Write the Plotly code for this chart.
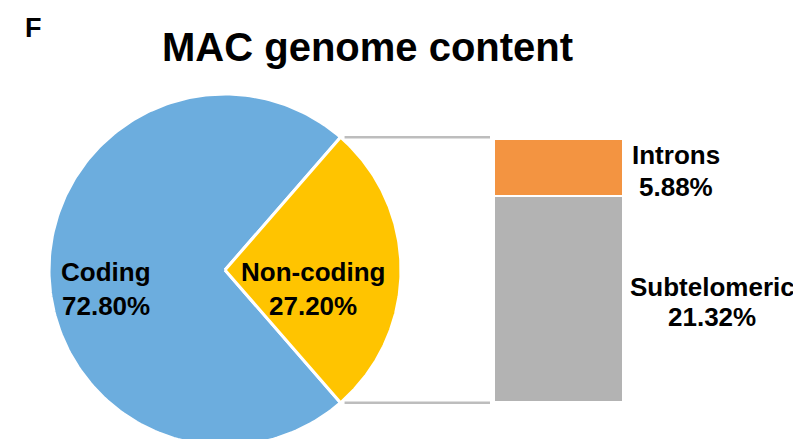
import numpy as np
import plotly.graph_objects as go

# data
pie_labels = ["Coding", "Non-coding"]
pie_values = [72.80, 27.20]
bar_labels = ["Subtelomeric", "Introns"]
bar_values = [21.32, 5.88]

PIE_COLORS = ["#6CADDE", "#FFC400"]
BAR_COLORS = ["#B3B3B3", "#F39441"]
FONT = "Liberation Sans, Arial, sans-serif"

W, H = 801, 439
OFF = 8                            # page body margin of the html
CX, CY, R = 225, 270, 176          # pie centre / radius in page pixels
BAR_X0, BAR_X1 = 494, 623          # bar box in page pixels
BAR_Y0, BAR_Y1 = 139, 402


def wedge(a0, a1, n=200):
    t = np.radians(np.linspace(a0, a1, n))
    xs = np.concatenate([[CX], CX + R * np.cos(t), [CX]])
    ys = np.concatenate([[CY], CY - R * np.sin(t), [CY]])
    return xs, ys


fig = go.Figure()

# pie: non-coding slice centred on the right-hand side
half = pie_values[1] / sum(pie_values) * 180
spans = [(half, 360 - half), (-half, half)]
for lab, col, (a0, a1) in zip(pie_labels, PIE_COLORS, spans):
    xs, ys = wedge(a0, a1)
    fig.add_trace(go.Scatter(
        x=xs, y=ys, mode="lines", fill="toself", fillcolor=col,
        line=dict(color="white", width=3), name=lab, hoverinfo="name",
    ))

# connector lines from wedge tips to the bar
tip_x = CX + R * np.cos(np.radians(half))
for sgn in (1, -1):
    ty = CY - sgn * R * np.sin(np.radians(half))
    fig.add_trace(go.Scatter(
        x=[tip_x + 4, BAR_X0 - 4], y=[ty, ty], mode="lines",
        line=dict(color="#BDBDBD", width=2.5), hoverinfo="skip",
    ))

# stacked bar of the non-coding part
for lab, val, col in zip(bar_labels, bar_values, BAR_COLORS):
    fig.add_trace(go.Bar(
        x=[0], y=[val], width=1, name=lab, marker=dict(color=col, line=dict(color="white", width=2.5)),
        xaxis="x2", yaxis="y2",
    ))

ann = []
def label(x, y, text, size=26):
    ann.append(dict(x=x, y=y, text=text, showarrow=False, xref="x", yref="y",
                    font=dict(family=FONT, size=size, color="black", weight="bold"),
                    align="center"))

# two-line labels, one annotation per line (y = line centre)
label(106, 271.5, pie_labels[0]);  label(106, 305.5, f"{pie_values[0]:.2f}%")
label(313, 271.5, pie_labels[1]);  label(313, 305.5, f"{pie_values[1]:.2f}%")
label(676, 154.5, bar_labels[1]);  label(676, 186.5, f"{bar_values[1]:.2f}%")
label(712, 286.5, bar_labels[0]);  label(712, 316.5, f"{bar_values[0]:.2f}%")
label(367, 47, "MAC genome content", size=40)
label(33, 28, "F", size=27)

fig.update_layout(
    width=W, height=H,
    margin=dict(l=0, r=0, t=0, b=0),
    paper_bgcolor="white", plot_bgcolor="white",
    showlegend=False, barmode="stack",
    annotations=ann,
    xaxis=dict(range=[OFF, W + OFF], visible=False, fixedrange=True),
    yaxis=dict(range=[H + OFF, OFF], visible=False, fixedrange=True),
    xaxis2=dict(domain=[(BAR_X0 - OFF) / W, (BAR_X1 - OFF) / W], range=[-0.5, 0.5],
                anchor="y2", visible=False),
    yaxis2=dict(domain=[(H + OFF - BAR_Y1) / H, (H + OFF - BAR_Y0) / H],
                range=[0, sum(bar_values)], anchor="x2", visible=False),
)

fig.write_html("out.html")
